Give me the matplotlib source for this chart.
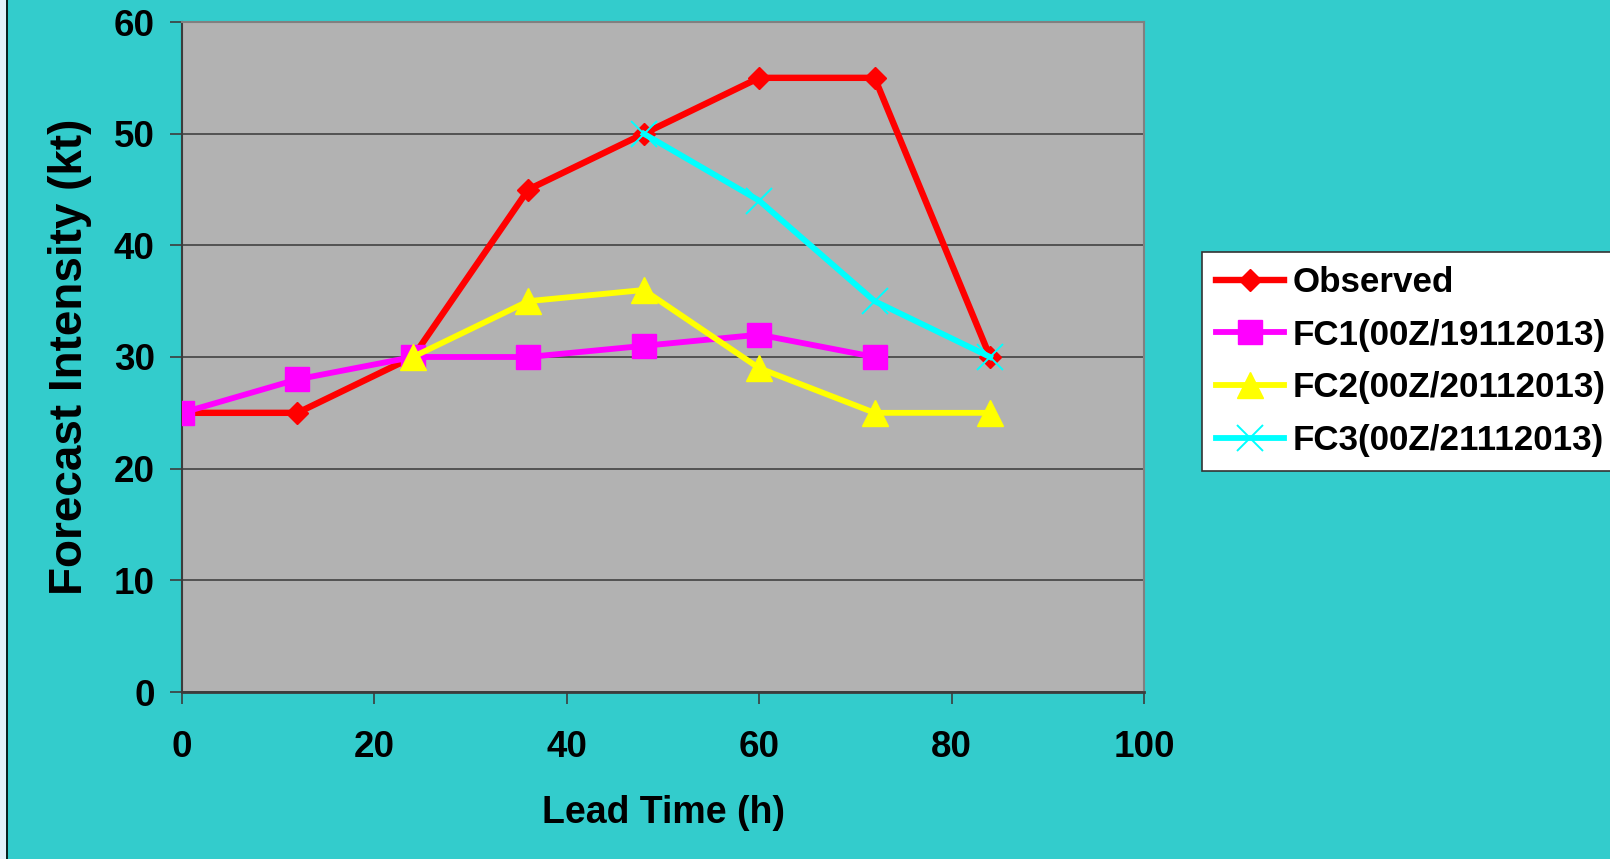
import matplotlib
matplotlib.use('Agg')
import matplotlib.pyplot as plt
from matplotlib.patches import Rectangle
from matplotlib.lines import Line2D

# Lead times (h) and intensities (kt) for each series
lead_time = [0, 12, 24, 36, 48, 60, 72, 84]
observed = [25, 25, 30, 45, 50, 55, 55, 30]

fc1_time = [0, 12, 24, 36, 48, 60, 72]
fc1 = [25, 28, 30, 30, 31, 32, 30]

fc2_time = [24, 36, 48, 60, 72, 84]
fc2 = [30, 35, 36, 29, 25, 25]

fc3_time = [48, 60, 72, 84]
fc3 = [50, 44, 35, 30]

labels = ['Observed', 'FC1(00Z/19112013)', 'FC2(00Z/20112013)', 'FC3(00Z/21112013)']

plt.rcParams['font.family'] = ['Liberation Sans', 'DejaVu Sans']
plt.rcParams['font.weight'] = 'bold'

fig = plt.figure(figsize=(16.1, 8.59), dpi=100)
fig.patch.set_facecolor('#33CCCC')

# thin pale strip with a dark edge along the left side
fig.patches.append(Rectangle((0, 0), 6 / 1610, 1, transform=fig.transFigure,
                             facecolor='#E2F1FB', edgecolor='none', zorder=0))
fig.add_artist(Line2D([6.5 / 1610, 6.5 / 1610], [0, 1], transform=fig.transFigure,
                      color='black', linewidth=1.2))

ax = fig.add_axes([182 / 1610, 1 - 692 / 859, (1144 - 182) / 1610, (692 - 22) / 859])
ax.set_facecolor('#B2B2B2')

ax.plot(lead_time, observed, color='#FF0000', linewidth=4.6, marker='D',
        markersize=11.5, label=labels[0], zorder=3)
ax.plot(fc1_time, fc1, color='#FF00FF', linewidth=4.2, marker='s',
        markersize=17, label=labels[1], zorder=4)
ax.plot(fc2_time, fc2, color='#FFFF00', linewidth=4.2, marker='^',
        markersize=19, label=labels[2], zorder=5)
ax.plot(fc3_time, fc3, color='#00FFFF', linewidth=4.2, marker='x',
        markersize=19, markeredgewidth=1.4, label=labels[3], zorder=6)

ax.set_xlim(0, 100)
ax.set_ylim(0, 60)
ax.set_xticks(range(0, 101, 20))
ax.set_yticks(range(0, 61, 10))

ax.yaxis.grid(True, color='#4A4A4A', linewidth=1.3)
ax.set_axisbelow(True)

for side in ['left', 'bottom']:
    ax.spines[side].set_color('#3C3C3C')
    ax.spines[side].set_linewidth(1.5)
ax.spines['bottom'].set_linewidth(2)
for side in ['top', 'right']:
    ax.spines[side].set_color('#808080')
    ax.spines[side].set_linewidth(1.5)

ax.tick_params(axis='both', direction='out', length=8.6, width=1.2,
               color='#3C3C3C', labelsize=26.5)
ax.tick_params(axis='y', pad=11)
ax.tick_params(axis='x', pad=19)
for lbl in ax.get_xticklabels() + ax.get_yticklabels():
    lbl.set_fontweight('bold')

ax.set_xlabel('Lead Time (h)', fontsize=27, fontweight='bold')
ax.set_ylabel('Forecast Intensity (kt)', fontsize=33, fontweight='bold')
ax.xaxis.set_label_coords(0.5, -0.153)
ax.yaxis.set_label_coords(-0.094, 0.5)

# legend box runs off the right edge of the figure
leg = fig.legend(loc='upper left', bbox_to_anchor=(1202 / 1610, 1 - 252 / 859),
                 frameon=True, fancybox=False, shadow=False,
                 handlelength=1.95, handletextpad=0.25, labelspacing=0.56,
                 borderpad=0.4, borderaxespad=0, prop={'weight': 'bold', 'size': 25.2})
leg.get_frame().set_facecolor('white')
leg.get_frame().set_edgecolor('#333333')
leg.get_frame().set_linewidth(1.2)
leg.get_frame().set_alpha(1)

fig.savefig('out.png', dpi=100, facecolor=fig.get_facecolor())
